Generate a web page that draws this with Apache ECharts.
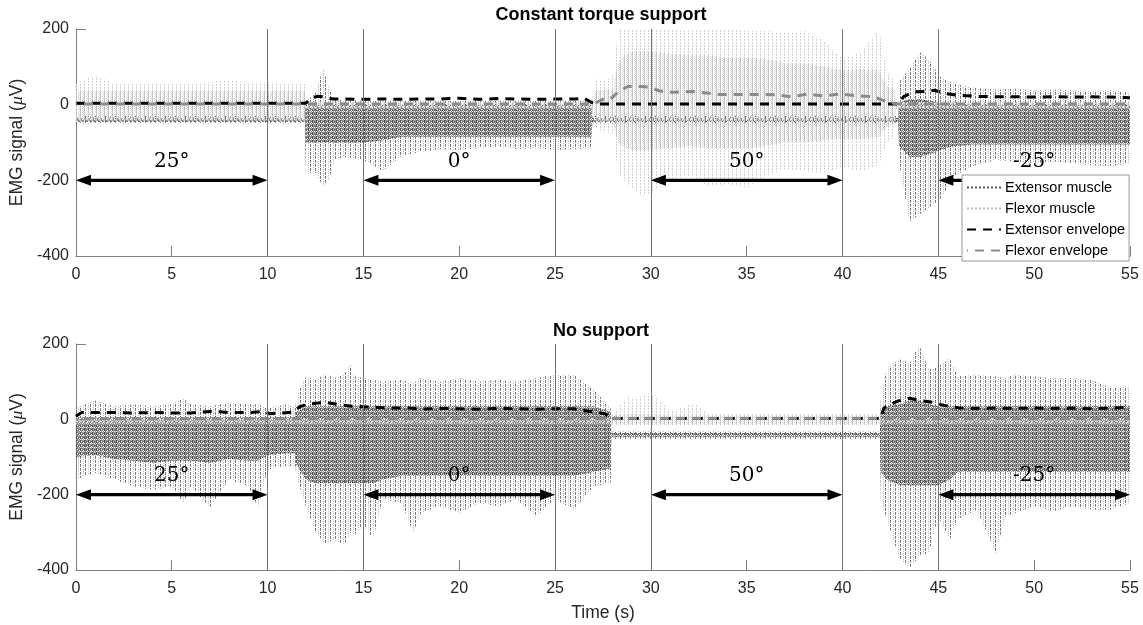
<!DOCTYPE html>
<html>
<head>
<meta charset="utf-8">
<script src="https://cdn.jsdelivr.net/npm/echarts@6/dist/echarts.min.js"></script>
<style>
  html, body { margin: 0; padding: 0; background: #fff; }
  #chart { width: 1143px; height: 625px; }
</style>
</head>
<body>
<div id="chart"></div>
<script>
// ---- data (time in s, signal in uV) ----
// raw EMG is kept as spike extents (lo/hi) and dense-core extents per knot

// Constant torque support - extensor muscle
var p1ExtT = [0, 11.95, 12.0, 12.5, 12.9, 13.2, 13.5, 14, 15, 16, 17, 18, 19, 20, 21, 22, 23, 24, 25, 26, 26.9, 26.95, 42.9, 42.95, 43.5, 44.1, 44.6, 45.1, 45.8, 46.8, 48, 49, 50, 51, 52, 53, 54, 55];
var p1ExtLo = [-50, -50, -181, -180, -217, -200, -146, -138, -146, -175, -135, -125, -118, -120, -115, -112, -118, -115, -120, -118, -115, -50, -50, -150, -309, -287, -270, -252, -190, -163, -146, -150, -155, -150, -155, -160, -163, -155];
var p1ExtHi = [-30, -30, 10, 30, 96, 45, 15, 12, 10, 10, 10, 10, 10, 10, 10, 10, 10, 10, 10, 10, 10, -30, -30, 60, 97, 140, 113, 74, 56, 45, 40, 42, 38, 40, 38, 36, 38, 32];
var p1ExtCoreLo = [-46, -46, -100, -100, -100, -100, -100, -100, -100, -95, -85, -85, -85, -85, -85, -85, -85, -85, -85, -85, -85, -46, -46, -110, -138, -138, -130, -120, -110, -105, -105, -105, -105, -105, -105, -105, -105, -105];
var p1ExtCoreHi = [-35, -35, 0, 0, 0, 0, 0, 0, 0, 0, 0, 0, 0, 0, 0, 0, 0, 0, 0, 0, 0, -35, -35, 5, 15, 15, 10, 5, 5, 0, 0, 0, 0, 0, 0, 0, 0, 0];

// Constant torque support - flexor muscle
var p1FlxT = [0, 1, 2, 3, 4, 5, 6, 7, 8, 9, 10, 11, 11.95, 12.0, 26.95, 27.0, 27.5, 28.0, 28.3, 28.6, 29, 29.5, 30, 31, 32, 33, 34, 35, 36, 37, 38, 39, 40, 41, 41.9, 42.3, 42.75, 42.8, 55];
var p1FlxLo = [-48, -48, -48, -48, -48, -48, -48, -48, -48, -48, -48, -48, -48, -12, -12, -60, -70, -77, -180, -200, -220, -243, -235, -200, -190, -215, -210, -220, -190, -170, -175, -181, -165, -175, -160, -100, -88, -12, -12];
var p1FlxHi = [55, 78, 55, 55, 58, 55, 55, 60, 65, 58, 60, 55, 55, 10, 10, 70, 60, 75, 200, 200, 200, 200, 200, 200, 195, 200, 200, 195, 195, 190, 195, 170, 120, 140, 200, 90, 60, 10, 10];
var p1FlxCoreLo = [-40, -40, -40, -40, -40, -40, -40, -40, -40, -40, -40, -40, -40, -8, -8, -40, -45, -45, -100, -110, -120, -120, -120, -115, -110, -115, -115, -115, -110, -100, -100, -95, -90, -90, -85, -60, -45, -8, -8];
var p1FlxCoreHi = [35, 35, 35, 35, 35, 35, 35, 35, 35, 35, 35, 35, 35, 6, 6, 35, 40, 40, 110, 130, 140, 140, 140, 135, 130, 130, 125, 125, 120, 110, 110, 100, 90, 95, 90, 50, 40, 6, 6];

// No support - extensor muscle
var p2ExtT = [0, 1, 2, 3, 4, 5, 5.6, 6, 7, 8, 9, 9.5, 10, 11, 11.45, 11.5, 12, 12.5, 13, 13.5, 14, 14.3, 14.5, 15, 15.5, 16, 17, 17.6, 18, 19, 20, 21, 22, 23, 24, 25, 26, 27, 27.9, 27.95, 41.95, 42.0, 42.3, 43, 43.5, 44, 44.5, 45, 45.6, 46, 47, 48, 48.5, 49, 50, 51, 52, 53, 54, 55];
var p2ExtLo = [-160, -142, -160, -178, -187, -178, -222, -178, -235, -160, -178, -235, -133, -124, -124, -150, -231, -300, -330, -320, -335, -300, -310, -280, -319, -213, -222, -302, -249, -231, -249, -222, -231, -213, -258, -213, -240, -178, -169, -52, -52, -213, -266, -373, -395, -364, -355, -258, -320, -266, -240, -355, -258, -249, -231, -244, -231, -240, -240, -222];
var p2ExtHi = [30, 50, 35, 40, 35, 40, 55, 40, 35, 45, 40, 40, 30, 40, 30, 60, 114, 105, 120, 110, 120, 145, 115, 110, 105, 100, 105, 95, 110, 100, 110, 100, 105, 100, 110, 118, 118, 80, 30, -30, -30, 60, 132, 162, 149, 198, 132, 140, 162, 114, 119, 114, 110, 119, 114, 109, 110, 105, 83, 90];
var p2ExtCoreLo = [-100, -95, -105, -110, -115, -110, -110, -110, -115, -105, -110, -110, -95, -90, -90, -120, -160, -170, -170, -170, -170, -170, -170, -170, -170, -160, -150, -150, -150, -150, -150, -150, -150, -150, -150, -150, -150, -140, -130, -46, -46, -140, -160, -175, -175, -175, -175, -175, -160, -140, -140, -140, -140, -140, -140, -140, -140, -140, -140, -140];
var p2ExtCoreHi = [5, 5, 5, 5, 5, 5, 5, 5, 5, 5, 5, 5, 5, 5, 5, 20, 35, 35, 35, 35, 35, 35, 35, 35, 35, 35, 35, 35, 35, 35, 35, 35, 35, 35, 35, 35, 35, 35, 20, -36, -36, 20, 35, 40, 50, 50, 40, 35, 35, 35, 35, 35, 35, 35, 35, 35, 35, 35, 35, 35];

// No support - flexor muscle
var p2FlxT = [0, 27.95, 28.0, 28.8, 29.3, 29.8, 30.4, 31, 32.3, 33, 41.95, 42.0, 55];
var p2FlxLo = [-14, -14, -18, -18, -18, -18, -18, -18, -18, -18, -18, -14, -14];
var p2FlxHi = [4, 4, 15, 60, 55, 70, 55, 20, 45, 15, 15, 4, 4];
var p2FlxCoreLo = [-9, -9, -14, -14, -14, -14, -14, -14, -14, -14, -14, -9, -9];
var p2FlxCoreHi = [-1, -1, 10, 15, 15, 15, 12, 10, 10, 10, 10, -1, -1];

// envelopes
var p1ExtEnvT = [0, 12.0, 12.3, 12.6, 13.0, 13.4, 14, 15, 16, 17, 18, 19, 20, 21, 22, 23, 24, 25, 26, 26.5, 26.9, 27.2, 42.9, 43.2, 43.8, 44.3, 44.8, 45.3, 46, 47, 48, 49, 50, 51, 52, 53, 54, 55];
var p1ExtEnv = [4, 4, 18, 22, 20, 15, 15, 14, 15, 14, 15, 15, 17, 14, 16, 15, 14, 15, 15, 17, 6, 2, 2, 22, 34, 35, 38, 30, 25, 22, 21, 21, 20, 21, 20, 21, 20, 18];
var p1FlxEnvT = [0, 27.0, 27.5, 27.9, 28.3, 28.8, 29.5, 30.0, 30.4, 31.1, 32.2, 33.5, 34.8, 35.6, 36.5, 37.3, 38.2, 39.0, 39.9, 40.8, 41.6, 42.3, 42.8, 55];
var p1FlxEnv = [2, 2, 14, 15, 34, 48, 48, 46, 37, 33, 35, 27, 27, 27, 26, 21, 28, 23, 28, 23, 21, 8, 2, 2];
var p2ExtEnvT = [0, 0.3, 1, 2, 3, 4, 5, 6, 6.5, 7, 7.5, 8, 9, 9.8, 10.1, 10.8, 11.3, 11.7, 12.2, 13.05, 13.7, 14.4, 15.3, 16.3, 17.4, 18, 19, 20, 21, 22, 23, 24, 25, 26, 26.6, 27.6, 27.95, 28.3, 42.0, 42.15, 42.85, 43.5, 44.06, 44.6, 45.3, 46.1, 47, 48, 49, 50, 51, 52, 53, 54, 55];
var p2ExtEnv = [8, 18, 18, 18, 17, 18, 17, 17, 19, 21, 20, 18, 18, 21, 15, 17, 19, 34, 41, 45, 39, 35, 33, 30, 30, 27, 29, 28, 27, 29, 28, 27, 28, 28, 23, 15, 3, 2, 2, 30, 48, 56, 50, 46, 37, 30, 29, 30, 29, 30, 29, 30, 28, 30, 32];
var p2FlxEnvT = [0, 55];
var p2FlxEnv = [2, 2];

// phase markers and angle arrows
var phaseLines = [10, 15, 25, 30, 40, 45];
var arrowStart = [0, 15, 30, 45];
var arrowEnd = [10, 25, 40, 55];
var arrowLevel = -200;
var arrowLabels = ['25°', '0°', '50°', '-25°'];

var panelTitles = ['Constant torque support', 'No support'];
var seriesNames = ['Extensor muscle', 'Flexor muscle', 'Extensor envelope', 'Flexor envelope'];

// ---- helpers ----
var SANS = 'Liberation Sans, Arial, sans-serif';
var SERIF = 'DejaVu Serif, Liberation Serif, serif';

function zip(t, v) {
  var out = [];
  for (var i = 0; i < t.length; i++) out.push([t[i], v[i]]);
  return out;
}

// small canvas tile -> repeating fill, gives the dotted "many spikes" texture
function makePattern(w, h, cells) {
  var c = document.createElement('canvas');
  c.width = w; c.height = h;
  var ctx = c.getContext('2d');
  for (var i = 0; i < cells.length; i++) {
    ctx.fillStyle = cells[i][2];
    ctx.fillRect(cells[i][0], cells[i][1], 1, 1);
  }
  return { image: c, repeat: 'repeat' };
}

var darkCore = makePattern(4, 4, [
  [0, 0, '#4a4a4a'], [0, 1, '#565656'], [0, 2, '#4a4a4a'],
  [1, 0, '#8c8c8c'], [1, 2, '#969696'], [1, 3, '#8c8c8c'],
  [2, 0, '#909090'], [2, 1, '#6a6a6a'], [2, 2, '#727272'],
  [3, 0, '#a8a8a8'], [3, 1, '#808080'], [3, 3, '#8a8a8a']
]);
var darkOuter = makePattern(5, 4, [[0, 0, '#6e6e6e'], [0, 1, '#7a7a7a'], [0, 2, '#8a8a8a'], [3, 1, '#b4b4b4'], [3, 3, '#c0c0c0']]);
var lightCore = makePattern(4, 2, [[0, 0, '#bcbcbc'], [0, 1, '#cacaca'], [2, 0, '#d6d6d6'], [3, 1, '#dadada']]);
var lightOuter = makePattern(4, 3, [[0, 0, '#cccccc'], [0, 1, '#d8d8d8']]);

function band(idx, t, lo, hi, fill) {
  return {
    type: 'custom',
    xAxisIndex: idx,
    yAxisIndex: idx,
    silent: true,
    data: [[t[0], lo[0]]],
    encode: { x: 0, y: 1 },
    renderItem: function (params, api) {
      var pts = [];
      for (var i = 0; i < t.length; i++) pts.push(api.coord([t[i], hi[i]]));
      for (var j = t.length - 1; j >= 0; j--) pts.push(api.coord([t[j], lo[j]]));
      return { type: 'polygon', shape: { points: pts }, style: { fill: fill, stroke: null } };
    }
  };
}

function envelope(idx, name, t, v, color, offset) {
  return {
    name: name,
    type: 'line',
    xAxisIndex: idx,
    yAxisIndex: idx,
    data: zip(t, v),
    symbol: 'none',
    silent: true,
    itemStyle: { color: color },
    lineStyle: { color: color, width: 3, type: [9, 7], dashOffset: offset }
  };
}

function markers(idx) {
  var lines = [];
  for (var i = 0; i < phaseLines.length; i++) lines.push({ xAxis: phaseLines[i] });
  var rows = [];
  for (var k = 0; k < arrowStart.length; k++) rows.push([arrowStart[k], arrowEnd[k], arrowLevel]);
  return [{
    type: 'line',
    xAxisIndex: idx,
    yAxisIndex: idx,
    data: [],
    markLine: {
      silent: true,
      symbol: ['none', 'none'],
      label: { show: false },
      lineStyle: { color: '#767676', width: 1, type: 'solid' },
      data: lines
    }
  }, {
    type: 'custom',
    xAxisIndex: idx,
    yAxisIndex: idx,
    silent: true,
    data: rows,
    encode: { x: [0, 1], y: 2 },
    renderItem: function (params, api) {
      var a = api.coord([api.value(0), api.value(2)]);
      var b = api.coord([api.value(1), api.value(2)]);
      var L = 15, W = 5.5, y = a[1];
      return {
        type: 'group',
        children: [
          { type: 'line', shape: { x1: a[0] + L - 2, y1: y, x2: b[0] - L + 2, y2: y }, style: { stroke: '#000', lineWidth: 3.3 } },
          { type: 'polygon', shape: { points: [[a[0], y], [a[0] + L, y - W], [a[0] + L, y + W]] }, style: { fill: '#000' } },
          { type: 'polygon', shape: { points: [[b[0], y], [b[0] - L, y - W], [b[0] - L, y + W]] }, style: { fill: '#000' } },
          { type: 'text', x: (a[0] + b[0]) / 2, y: y - 19, style: { text: arrowLabels[params.dataIndex], fill: '#000', font: '20px ' + SERIF, align: 'center', verticalAlign: 'middle' } }
        ]
      };
    }
  }];
}

function xAxisOf(idx) {
  var ax = {
    type: 'value', gridIndex: idx, min: 0, max: 55, interval: 5,
    axisLine: { show: true, onZero: false, lineStyle: { color: '#808080', width: 1 } },
    axisTick: { show: true, inside: true, length: 10, lineStyle: { color: '#808080' } },
    axisLabel: { color: '#262626', fontSize: 16, fontFamily: SANS, margin: 11 },
    splitLine: { show: false }
  };
  if (idx === 1) {
    ax.name = 'Time (s)';
    ax.nameLocation = 'middle';
    ax.nameGap = 34;
    ax.nameTextStyle = { color: '#262626', fontSize: 17.5, fontFamily: SANS };
  }
  return ax;
}

function yAxisOf(idx) {
  return {
    type: 'value', gridIndex: idx, min: -400, max: 200, interval: 200,
    name: 'EMG signal ({i|μ}V)',
    nameLocation: 'middle',
    nameGap: 41,
    nameTextStyle: { color: '#262626', fontSize: 17.5, fontFamily: SANS, rich: { i: { fontStyle: 'italic', fontSize: 17.5, fontFamily: 'Liberation Serif, serif', color: '#262626' } } },
    axisLine: { show: true, lineStyle: { color: '#808080', width: 1 } },
    axisTick: { show: true, inside: true, length: 10, lineStyle: { color: '#808080' } },
    axisLabel: { color: '#262626', fontSize: 16, fontFamily: SANS, margin: 7 },
    splitLine: { show: false }
  };
}

var series = [
  band(0, p1ExtT, p1ExtLo, p1ExtHi, darkOuter),
  band(0, p1ExtT, p1ExtCoreLo, p1ExtCoreHi, darkCore),
  band(0, p1FlxT, p1FlxLo, p1FlxHi, lightOuter),
  band(0, p1FlxT, p1FlxCoreLo, p1FlxCoreHi, lightCore),
  band(1, p2ExtT, p2ExtLo, p2ExtHi, darkOuter),
  band(1, p2ExtT, p2ExtCoreLo, p2ExtCoreHi, darkCore),
  band(1, p2FlxT, p2FlxLo, p2FlxHi, lightOuter),
  band(1, p2FlxT, p2FlxCoreLo, p2FlxCoreHi, lightCore),
  // legend-only entries for the raw traces
  { name: seriesNames[0], type: 'line', data: [], symbol: 'none', itemStyle: { color: '#555' }, lineStyle: { color: '#555', width: 1, type: 'dotted' } },
  { name: seriesNames[1], type: 'line', data: [], symbol: 'none', itemStyle: { color: '#bbb' }, lineStyle: { color: '#bbb', width: 1, type: 'dotted' } },
  envelope(0, seriesNames[2], p1ExtEnvT, p1ExtEnv, '#000', 0),
  envelope(0, seriesNames[3], p1FlxEnvT, p1FlxEnv, '#8a8a8a', 8),
  envelope(1, seriesNames[2], p2ExtEnvT, p2ExtEnv, '#000', 0),
  envelope(1, seriesNames[3], p2FlxEnvT, p2FlxEnv, '#8a8a8a', 8)
].concat(markers(0), markers(1));

var option = {
  animation: false,
  backgroundColor: '#fff',
  grid: [
    { left: 72, right: 13, top: 29, height: 227 },
    { left: 72, right: 13, top: 344, height: 226 }
  ],
  xAxis: [xAxisOf(0), xAxisOf(1)],
  yAxis: [yAxisOf(0), yAxisOf(1)],
  graphic: [
    { type: 'text', x: 601, y: 15, style: { text: panelTitles[0], font: 'bold 18px ' + SANS, fill: '#000', align: 'center', verticalAlign: 'middle' } },
    { type: 'text', x: 601, y: 331, style: { text: panelTitles[1], font: 'bold 18px ' + SANS, fill: '#000', align: 'center', verticalAlign: 'middle' } }
  ],
  legend: {
    data: seriesNames,
    orient: 'vertical',
    left: 962,
    top: 175,
    z: 10,
    padding: [5, 4, 3, 4],
    itemGap: 6,
    itemWidth: 34,
    itemHeight: 14,
    backgroundColor: '#fff',
    borderColor: '#9a9a9a',
    borderWidth: 1,
    borderRadius: 0,
    selectedMode: false,
    itemStyle: { opacity: 0 },
    textStyle: { color: '#000', fontSize: 14.5, fontFamily: SANS, padding: [0, 0, 0, -1] }
  },
  series: series
};

var chart = echarts.init(document.getElementById('chart'));
chart.setOption(option);
</script>
</body>
</html>
